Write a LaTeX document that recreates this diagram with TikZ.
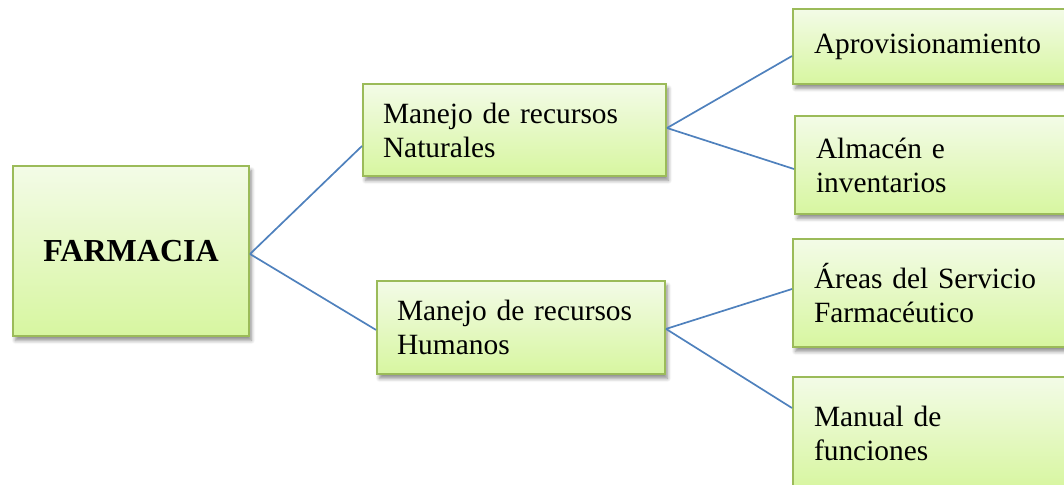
\documentclass[tikz,border=0pt]{standalone}
\usepackage{fontspec}
\setmainfont{Liberation Serif}
\usetikzlibrary{shadows.blur,calc}
\definecolor{topc}{RGB}{243,251,231}
\definecolor{botc}{RGB}{215,246,160}
\definecolor{bord}{RGB}{155,187,89}
\definecolor{conn}{RGB}{79,129,189}
\newcommand{\boxfont}{\fontsize{14.7}{17}\selectfont\spaceskip=0.2em\relax}
\tikzset{
  gbox/.style={draw=bord, line width=1pt, top color=topc, bottom color=botc,
    anchor=north west, inner xsep=10pt, inner ysep=0pt, align=left,
    font=\boxfont,
    blur shadow={shadow xshift=1.2pt, shadow yshift=-2.2pt, shadow blur steps=6, shadow opacity=45}},
  conline/.style={draw=conn, line width=0.85pt}
}
\begin{document}
\begin{tikzpicture}[x=0.5pt,y=-0.5pt]
\useasboundingbox (0,0) rectangle (1064,484);
\clip (0,0) rectangle (1064,484);
\node[gbox, minimum width=118pt, minimum height=85pt, text width=98pt, align=center,
  font=\fontsize{16}{18}\selectfont\bfseries] (farm) at (12,165) {FARMACIA};
\node[gbox, minimum width=151.5pt, minimum height=46pt, text width=131.5pt] (nat) at (362,83) {Manejo de recursos\\Naturales};
\node[gbox, minimum width=144pt, minimum height=46.5pt, text width=124pt] (hum) at (376,280) {Manejo de recursos\\Humanos};
\node[gbox, minimum width=144pt, minimum height=37.5pt, inner xsep=10.5pt, text width=123pt] (apr) at (792,8) {Aprovisionamiento};
\node[gbox, minimum width=143pt, minimum height=49pt, text width=122pt, inner xsep=10.5pt] (alm) at (794,115) {Almac\'en e\\inventarios};
\node[gbox, minimum width=144pt, minimum height=54pt, text width=123pt, inner xsep=10.5pt] (are) at (792,238) {\'Areas del Servicio\\Farmac\'eutico};
\node[gbox, minimum width=144pt, minimum height=56pt, text width=123pt, inner xsep=10.5pt] (man) at (792,376) {Manual de\\funciones};
\draw[conline] ([yshift=-1.5pt]farm.east) -- ([yshift=-8pt]nat.west);
\draw[conline] ([yshift=-1.5pt]farm.east) -- ([yshift=-1.2pt]hum.west);
\draw[conline] ([yshift=1pt]nat.east) -- ([yshift=-4.75pt]apr.west);
\draw[conline] ([yshift=1pt]nat.east) -- ([yshift=-2pt]alm.west);
\draw[conline] ([yshift=-0.7pt]hum.east) -- ([yshift=2pt]are.west);
\draw[conline] ([yshift=-0.7pt]hum.east) -- ([yshift=12.5pt]man.west);
\end{tikzpicture}
\end{document}
